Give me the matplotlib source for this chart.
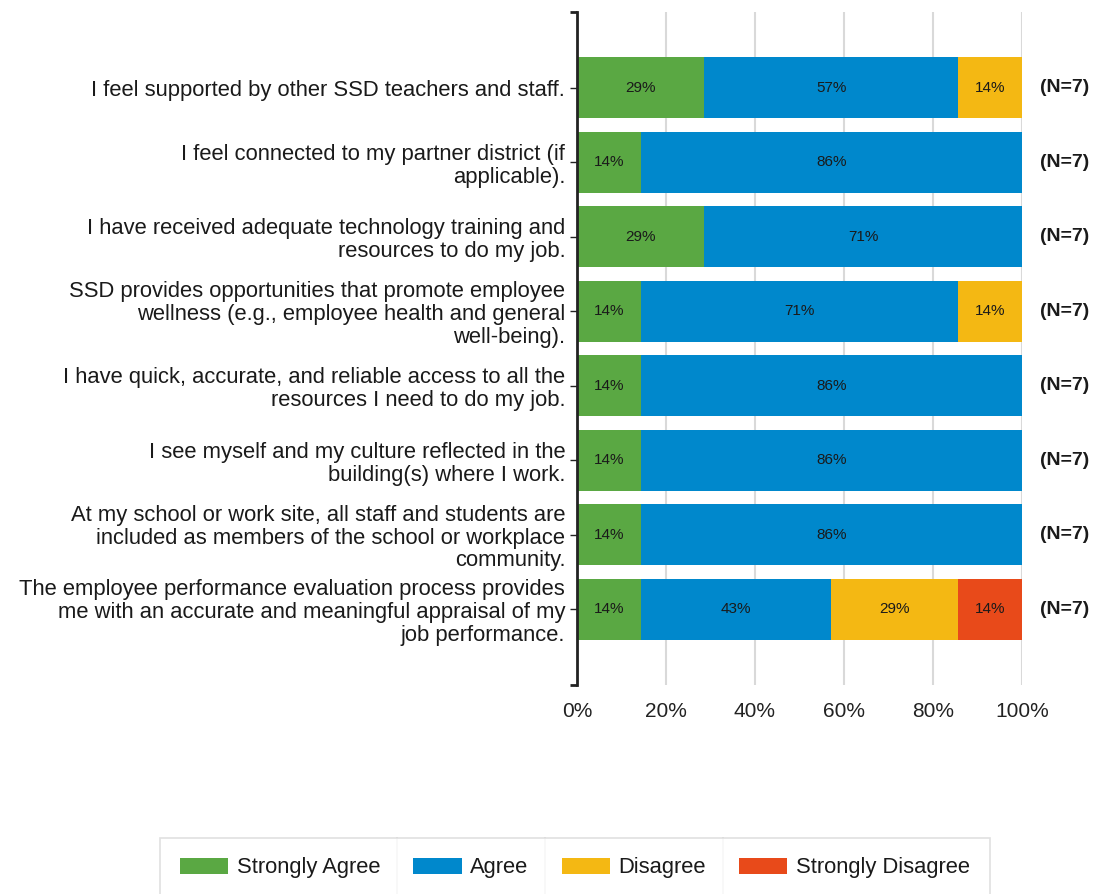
import matplotlib
matplotlib.use('Agg')
import matplotlib.pyplot as plt
import numpy as np

plt.rcParams['font.family'] = ['Liberation Sans', 'DejaVu Sans']

# survey items (top to bottom)
questions = [
    "I feel supported by other SSD teachers and staff.",
    "I feel connected to my partner district (if\napplicable).",
    "I have received adequate technology training and\nresources to do my job.",
    "SSD provides opportunities that promote employee\nwellness (e.g., employee health and general\nwell-being).",
    "I have quick, accurate, and reliable access to all the\nresources I need to do my job.",
    "I see myself and my culture reflected in the\nbuilding(s) where I work.",
    "At my school or work site, all staff and students are\nincluded as members of the school or workplace\ncommunity.",
    "The employee performance evaluation process provides\nme with an accurate and meaningful appraisal of my\njob performance.",
]
n_resp = [7, 7, 7, 7, 7, 7, 7, 7]

# response counts (N=7)
strongly_agree = [2, 1, 2, 1, 1, 1, 1, 1]
agree = [4, 6, 5, 5, 6, 6, 6, 3]
disagree = [1, 0, 0, 1, 0, 0, 0, 2]
strongly_disagree = [0, 0, 0, 0, 0, 0, 0, 1]

categories = ['Strongly Agree', 'Agree', 'Disagree', 'Strongly Disagree']
colors = ['#5AA843', '#0088CC', '#F4B813', '#E84A1A']
x_ticks = [0, 20, 40, 60, 80, 100]

fig = plt.figure(figsize=(11.07, 8.94), dpi=100)
ax = fig.add_axes([577 / 1107, 1 - 685 / 894, 445 / 1107, 673 / 894])

series = [strongly_agree, agree, disagree, strongly_disagree]
n = np.array(n_resp)
y = np.arange(len(questions))
left = np.zeros(len(questions))
for counts, name, col in zip(series, categories, colors):
    pct = np.array(counts) / n * 100
    bars = ax.barh(y, pct, left=left, height=0.82, color=col, label=name, zorder=2)
    labels = [f'{p:.0f}%' if p > 0 else '' for p in pct]
    ax.bar_label(bars, labels=labels, label_type='center', fontsize=11, color='#1a1a1a')
    left += pct

ax.set_xlim(0, 100)
ax.set_ylim(8.02, -1.02)
ax.set_axisbelow(True)
ax.xaxis.grid(True, color='#d9d9d9', lw=1.5)
for s in ['top', 'right', 'bottom']:
    ax.spines[s].set_visible(False)
ax.spines['left'].set_color('#222222')
ax.spines['left'].set_linewidth(2)

ax.set_yticks(y, questions, fontsize=15.8, linespacing=1.12, color='#1a1a1a')
ax.set_yticks([-1.02, 8.02], minor=True)
ax.tick_params(axis='y', which='major', length=5, width=1, pad=3.5, color='#222222')
ax.tick_params(axis='y', which='minor', length=5, width=2, color='#222222')

ax.set_xticks(x_ticks, [f'{t}%' for t in x_ticks])
ax.tick_params(axis='x', length=0, pad=12, labelsize=15, labelcolor='#222222')

for yi, nv in zip(y, n_resp):
    ax.annotate(f'(N={nv})', xy=(1, yi), xycoords=('axes fraction', 'data'),
                xytext=(13, 0), textcoords='offset points', ha='left', va='center',
                fontsize=14, fontweight='bold', color='#1a1a1a')

handles, labs = ax.get_legend_handles_labels()
leg = fig.legend(handles, labs, ncol=4, loc='center',
                 bbox_to_anchor=(575 / 1107, 1 - 868 / 894),
                 fontsize=15.8, frameon=True, fancybox=False,
                 edgecolor='#d9d9d9', handlelength=2.2, handleheight=0.75,
                 handletextpad=0.4, columnspacing=1.5, borderpad=0.9,
                 labelcolor='#1a1a1a')
leg.get_frame().set_linewidth(1.2)

# vertical separators between legend entries
fig.canvas.draw()
r = fig.canvas.get_renderer()
fb = leg.get_window_extent(r)
texts = leg.get_texts()
hs = leg.legend_handles
for i in range(len(texts) - 1):
    x_right = texts[i].get_window_extent(r).x1
    x_next = hs[i + 1].get_window_extent(r).x0
    xm = (x_right + x_next) / 2 / fig.bbox.width
    fig.add_artist(plt.Line2D([xm, xm], [fb.y0 / fig.bbox.height, fb.y1 / fig.bbox.height],
                              color='#d9d9d9', lw=1.2))

fig.savefig('out.png', dpi=100)
